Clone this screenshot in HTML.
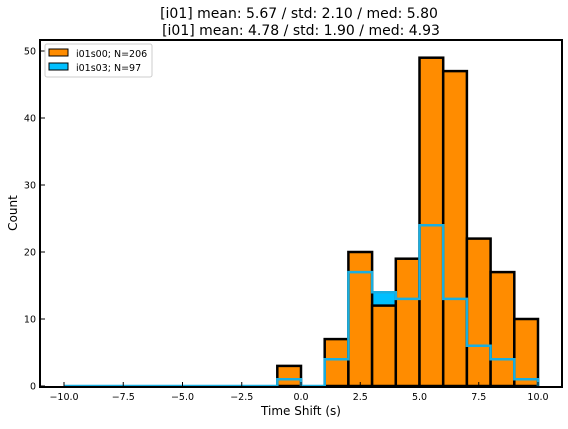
<!DOCTYPE html>
<html><head><meta charset="utf-8"><style>
body{margin:0;background:#fff;}
svg text{font-family:"DejaVu Sans","Liberation Sans",sans-serif;}
</style></head><body>
<svg id="chart" width="568" height="424" xmlns="http://www.w3.org/2000/svg">
<rect width="568" height="424" fill="#fff"/>
<text x="299" y="18" font-size="14" text-anchor="middle">[i01] mean: 5.67 / std: 2.10 / med: 5.80</text>
<text x="301" y="35" font-size="14" text-anchor="middle">[i01] mean: 4.78 / std: 1.90 / med: 4.93</text>
<g id="blueFill"></g>
<g id="bars"></g>
<g id="blueLine"></g>
<g id="axes"></g>
<text x="301" y="415" font-size="12" text-anchor="middle">Time Shift (s)</text>
<text transform="translate(17,213) rotate(-90)" font-size="12" text-anchor="middle">Count</text>
<g>
<rect x="45" y="44" width="107" height="33" fill="#fff" stroke="#ccc" rx="2"/>
<rect x="49" y="49" width="19" height="7" fill="#ff8c00" stroke="#000" stroke-width="1"/>
<text x="76" y="57" font-size="9.5">i01s00; N=206</text>
<rect x="49" y="63" width="19" height="7" fill="#00bfff" stroke="#000" stroke-width="1"/>
<text x="76" y="71" font-size="9.5">i01s03; N=97</text>
</g>
</svg>
<script>
const binEdges=[-10,-9,-8,-7,-6,-5,-4,-3,-2,-1,0,1,2,3,4,5,6,7,8,9,10];
const countsS00=[0,0,0,0,0,0,0,0,0,3,0,7,20,12,19,49,47,22,17,10];
const countsS03=[0,0,0,0,0,0,0,0,0,1,0,4,17,14,13,24,13,6,4,1];
const xTicks=[-10,-7.5,-5,-2.5,0,2.5,5,7.5,10];
const xTickLabels=["\u221210.0","\u22127.5","\u22125.0","\u22122.5","0.0","2.5","5.0","7.5","10.0"];
const yTicks=[0,10,20,30,40,50];
const NS="http://www.w3.org/2000/svg";
const L=40,R=562,T=40,B=387;
function X(v){return 64+(v+10)*23.7;}
function Y(v){return 386-v*6.7;}
function mk(tag,attrs,parent){const e=document.createElementNS(NS,tag);for(const k in attrs)e.setAttribute(k,attrs[k]);document.getElementById(parent).appendChild(e);return e;}
// blue step path
let d="M"+X(binEdges[0])+","+Y(0);
for(let i=0;i<countsS03.length;i++){d+=" L"+X(binEdges[i])+","+Y(countsS03[i])+" L"+X(binEdges[i+1])+","+Y(countsS03[i]);}
d+=" L"+X(binEdges[binEdges.length-1])+","+Y(0);
const bf=mk("path",{d:d+" Z",fill:"#00bfff",stroke:"none"},"blueFill");


for(let i=0;i<countsS00.length;i++){
 const x0=X(binEdges[i]),x1=X(binEdges[i+1]),y=Y(countsS00[i]);
 const r=mk("rect",{x:x0,y:y,width:x1-x0,height:Y(0)-y,fill:"#ff8c00",stroke:"#000","stroke-width":2.5},"bars");
 
 
}
const bl=mk("path",{d:d,fill:"none",stroke:"#1aaee0","stroke-width":2.5},"blueLine");


const fr=mk("rect",{x:L,y:T,width:R-L,height:B-T,fill:"none",stroke:"#000","stroke-width":2},"axes");


xTicks.forEach((v,i)=>{
 const tk=mk("line",{x1:X(v),x2:X(v),y1:B,y2:B-5,stroke:"#000","stroke-width":1},"axes");
 
 
 const t=mk("text",{x:X(v),y:B+13,"font-size":9.5,"text-anchor":"middle"},"axes");
 t.textContent=xTickLabels[i];
 
 
});
yTicks.forEach(v=>{
 const tk=mk("line",{x1:L,x2:L+5,y1:Y(v),y2:Y(v),stroke:"#000","stroke-width":1},"axes");
 
 
 const t=mk("text",{x:L-4,y:Y(v)+3.5,"font-size":9.5,"text-anchor":"end"},"axes");
 t.textContent=String(v);
 
 
});
</script>
</body></html>
